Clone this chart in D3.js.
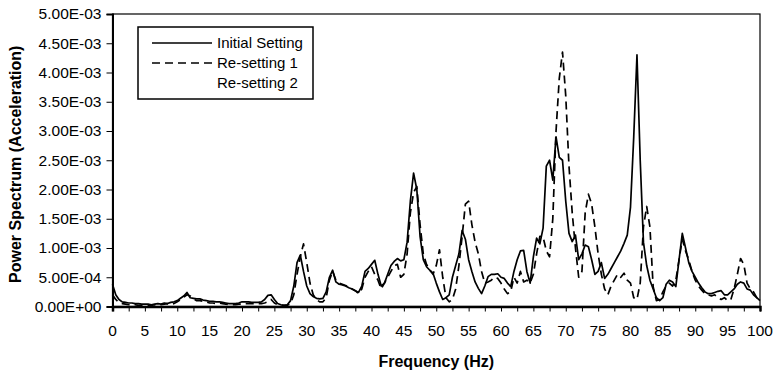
<!DOCTYPE html>
<html>
<head>
<meta charset="utf-8">
<script src="https://cdn.jsdelivr.net/npm/d3@7"></script>
<style>
  body { margin: 0; background: #fff; }
  text { font-family: Arial, "Liberation Sans", sans-serif; fill: #000; }
</style>
</head>
<body>
<svg id="chart" width="775" height="372"></svg>
<script>
// frequency grid of the spectrum, Hz
var freq = d3.range(0, 100.5, 0.5);

// power spectrum values, in units of 1E-03
var initialSetting = [
  0.38,0.2,0.12,0.08,0.07,0.06,0.06,0.05,0.05,0.04,
  0.04,0.04,0.03,0.04,0.05,0.04,0.06,0.05,0.07,0.08,
  0.1,0.14,0.18,0.24,0.15,0.14,0.13,0.13,0.11,0.1,
  0.09,0.09,0.08,0.08,0.07,0.06,0.05,0.05,0.05,0.06,
  0.08,0.08,0.08,0.07,0.07,0.07,0.08,0.12,0.19,0.2,
  0.12,0.05,0.03,0.02,0.03,0.1,0.35,0.75,0.88,0.6,
  0.35,0.22,0.17,0.14,0.13,0.14,0.25,0.5,0.62,0.42,
  0.38,0.37,0.35,0.32,0.3,0.27,0.24,0.35,0.6,0.65,
  0.72,0.79,0.55,0.35,0.4,0.55,0.7,0.77,0.82,0.78,
  0.8,1.1,1.8,2.28,2.0,1.2,0.8,0.68,0.62,0.57,
  0.4,0.25,0.12,0.15,0.2,0.5,0.7,0.9,1.3,1.15,
  0.8,0.6,0.42,0.31,0.22,0.35,0.51,0.55,0.55,0.56,
  0.5,0.48,0.4,0.34,0.6,0.8,0.95,0.96,0.6,0.4,
  0.85,1.17,1.07,1.34,2.4,2.5,2.16,2.9,2.55,2.5,
  1.8,1.25,1.11,1.22,0.8,0.9,1.05,1.02,0.8,0.55,
  0.6,0.75,0.48,0.55,0.65,0.75,0.85,0.95,1.08,1.22,
  1.7,2.9,4.3,2.5,1.1,0.7,0.45,0.3,0.15,0.1,
  0.15,0.38,0.45,0.42,0.34,0.8,1.25,1.0,0.75,0.6,
  0.5,0.4,0.32,0.25,0.22,0.22,0.24,0.26,0.27,0.2,
  0.2,0.25,0.3,0.38,0.42,0.4,0.3,0.28,0.2,0.15,
  0.1
];
var resetting1 = [
  0.2,0.12,0.07,0.05,0.04,0.03,0.03,0.03,0.02,0.02,
  0.02,0.02,0.02,0.03,0.02,0.03,0.04,0.05,0.03,0.05,
  0.08,0.12,0.16,0.2,0.18,0.13,0.1,0.1,0.09,0.08,
  0.06,0.06,0.05,0.06,0.05,0.04,0.03,0.03,0.03,0.04,
  0.04,0.05,0.05,0.05,0.05,0.05,0.05,0.06,0.08,0.12,
  0.06,0.03,0.02,0.02,0.02,0.05,0.2,0.55,0.85,1.07,
  0.75,0.4,0.2,0.12,0.08,0.08,0.15,0.45,0.6,0.45,
  0.4,0.38,0.36,0.33,0.3,0.27,0.22,0.3,0.5,0.6,
  0.68,0.55,0.45,0.3,0.4,0.5,0.6,0.7,0.72,0.5,
  0.55,0.9,1.6,1.95,2.05,1.4,0.9,0.72,0.62,0.55,
  0.7,0.97,0.5,0.15,0.08,0.12,0.3,0.7,1.2,1.75,
  1.8,1.4,1.1,0.9,0.6,0.4,0.42,0.45,0.5,0.48,
  0.4,0.3,0.22,0.25,0.5,0.4,0.6,0.42,0.45,0.4,
  0.55,0.9,1.2,1.19,0.95,0.85,1.5,3.0,3.9,4.35,
  3.6,2.4,1.6,1.0,0.5,0.6,1.6,1.92,1.75,1.36,
  0.9,0.55,0.3,0.2,0.35,0.45,0.55,0.5,0.57,0.45,
  0.4,0.15,0.12,0.4,1.36,1.71,1.36,0.34,0.1,0.12,
  0.25,0.35,0.4,0.35,0.45,0.8,1.15,0.95,0.8,0.6,
  0.45,0.35,0.28,0.22,0.2,0.18,0.2,0.15,0.12,0.15,
  0.1,0.12,0.3,0.55,0.82,0.72,0.4,0.3,0.25,0.15,
  0.08
];

var seriesNames = ["Initial Setting", "Re-setting 1", "Re-setting 2"];
var xTickLabels = [0,5,10,15,20,25,30,35,40,45,50,55,60,65,70,75,80,85,90,95,100];
var xMinorTicks = d3.range(0, 100.1, 2.5);
var yTickValues = [0,0.5,1,1.5,2,2.5,3,3.5,4,4.5,5];

var svg = d3.select("#chart");
var plotLeft = 112.5, plotRight = 760, plotTop = 14, plotBottom = 306.5;

var x = d3.scaleLinear().domain([0, 100]).range([plotLeft, plotRight]);
var y = d3.scaleLinear().domain([0, 5]).range([plotBottom, plotTop]);

// Excel-like scientific labels, e.g. 5.00E-04
function sci(v) {
    var parts = (v * 1e-3).toExponential(2).split("e");
    var ex = parseInt(parts[1]);
    return parts[0] + "E" + (ex < 0 ? "-" : "+") + String(Math.abs(ex)).padStart(2, "0");
}

// plot area frame
svg.append("rect")
    .attr("x", plotLeft).attr("y", plotTop)
    .attr("width", plotRight - plotLeft).attr("height", plotBottom - plotTop)
    .attr("fill", "none").attr("stroke", "#000").attr("stroke-width", 1.2);

// series
var line = d3.line()
    .x(function(d) { return x(d[0]); })
    .y(function(d) { return y(d[1]); });

var series = [
    {name: seriesNames[0], values: initialSetting, dash: null},
    {name: seriesNames[1], values: resetting1, dash: "8,5"}
];
series.forEach(function(s) {
    svg.append("path")
        .datum(freq.map(function(f, i) { return [f, s.values[i]]; }))
        .attr("d", line)
        .attr("fill", "none")
        .attr("stroke", "#000")
        .attr("stroke-width", 1.7)
        .attr("stroke-linejoin", "round")
        .attr("stroke-dasharray", s.dash);
});

// y axis
var yAxis = svg.append("g")
    .attr("transform", "translate(" + plotLeft + ",0)")
    .call(d3.axisLeft(y).tickValues(yTickValues).tickFormat(sci).tickSize(6).tickPadding(5));
yAxis.select(".domain").attr("stroke-width", 2);
yAxis.selectAll("text").style("font-size", "15.5px");

// x axis: minor ticks every 2.5 Hz, labels every 5 Hz
var xAxis = svg.append("g")
    .attr("transform", "translate(0," + plotBottom + ")")
    .call(d3.axisBottom(x).tickValues(xMinorTicks).tickSize(5).tickFormat(""));
xAxis.select(".domain").attr("stroke-width", 2.5);

svg.append("g")
    .selectAll("text")
    .data(xTickLabels)
    .enter()
    .append("text")
    .attr("x", function(d) { return x(d); })
    .attr("y", 336)
    .attr("text-anchor", "middle")
    .style("font-size", "15.5px")
    .text(function(d) { return d; });

// axis titles
svg.append("text")
    .attr("x", (plotLeft + plotRight) / 2)
    .attr("y", 367)
    .attr("text-anchor", "middle")
    .style("font-size", "16px")
    .style("font-weight", "bold")
    .text("Frequency (Hz)");

svg.append("text")
    .attr("transform", "translate(21," + ((plotTop + plotBottom) / 2 + 4) + ") rotate(-90)")
    .attr("text-anchor", "middle")
    .style("font-size", "16px")
    .style("font-weight", "bold")
    .text("Power Spectrum (Acceleration)");

// legend
var legend = svg.append("g");
legend.append("rect")
    .attr("x", 138).attr("y", 27)
    .attr("width", 175).attr("height", 72)
    .attr("fill", "#fff").attr("stroke", "#000").attr("stroke-width", 1.5);

var legendDash = [null, "8,5", null];
var legendStroke = ["#000", "#000", "#fff"];
seriesNames.forEach(function(name, i) {
    var ly = 43 + i * 20;
    legend.append("line")
        .attr("x1", 152).attr("x2", 212)
        .attr("y1", ly).attr("y2", ly)
        .attr("stroke", legendStroke[i])
        .attr("stroke-width", 1.7)
        .attr("stroke-dasharray", legendDash[i]);
    legend.append("text")
        .attr("x", 217).attr("y", ly + 5)
        .style("font-size", "15px")
        .text(name);
});
</script>
</body>
</html>
